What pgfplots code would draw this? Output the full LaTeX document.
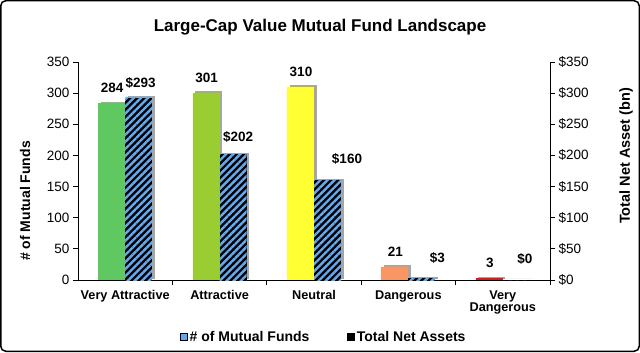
\documentclass[border=0pt]{standalone}
\usepackage{pgfplots}
\pgfplotsset{compat=1.18}
\usepackage{fontspec}
\setmainfont{Liberation Sans}
\usetikzlibrary{patterns.meta}
\definecolor{cVA}{RGB}{96,200,96}
\definecolor{cA}{RGB}{154,205,50}
\definecolor{cN}{RGB}{255,255,51}
\definecolor{cD}{RGB}{250,150,100}
\definecolor{cVD}{RGB}{210,30,30}
\definecolor{stripe}{RGB}{100,170,240}
\definecolor{lblue}{RGB}{100,165,240}
\newcommand{\fs}[1]{\fontsize{#1}{#1}\selectfont}
\begin{document}
\begin{tikzpicture}[x=1bp,y=1bp]
\useasboundingbox (0,0) rectangle (640,352);
\draw[line width=1.5bp, rounded corners=5bp] (0.75,0.75) rectangle (639.25,351.25);
\node[font=\bfseries\fs{17bp}] at (320,325) {Large-Cap Value Mutual Fund Landscape};
\begin{axis}[
  at={(78bp,72bp)}, anchor=south west,
  scale only axis, width=472bp, height=218bp,
  xmin=-0.5, xmax=4.5, ymin=0, ymax=350,
  axis y line*=left, axis x line*=bottom,
  axis line style={line width=0.9bp, -},
  ytick={0,50,...,350},
  yticklabel style={font=\fs{13.5bp}},
  /pgf/number format/assume math mode=true,
  tick align=outside, major tick length=5bp,
  tick style={line width=0.9bp, black},
  xtick={0.5,1.5,2.5,3.5,4.5},
  xticklabels={},
  extra x ticks={0,1,2,3,4},
  extra x tick labels={Very Attractive,Attractive,Neutral,Dangerous,{Very\\Dangerous}},
  extra x tick style={major tick length=0pt, xticklabel style={font=\bfseries\fs{12.7bp}, align=center, anchor=north, yshift=-7bp}},
  bar width=27bp,
  legend style={at={(0.521,-0.261)}, anchor=center, draw=none, fill=none,
    font=\bfseries\fs{14bp}, legend columns=2,
    /tikz/every even column/.append style={column sep=36bp}},
  legend cell align=left,
  legend image code/.code={\fill[#1] (0bp,-3.5bp) rectangle (7bp,3.5bp);},
  shadowed/.style={preaction={fill=black!35, transform canvas={xshift=2.5bp,yshift=1.5bp}}},
  fund/.style={ybar, forget plot, draw=none, bar shift=-13.5bp, fill=#1, shadowed,
    nodes near coords, nodes near coords style={font=\bfseries\fs{13.5bp}, anchor=center, yshift=15bp, xshift=-13bp, text=black}},
  asset/.style 2 args={ybar, forget plot, draw=none, bar shift=13.5bp, fill=black, shadowed,
    postaction={pattern={Lines[angle=45,distance=5bp,line width=2.4bp]}, pattern color=stripe},
    nodes near coords={\$\pgfmathprintnumber{\pgfplotspointmeta}},
    nodes near coords style={font=\bfseries\fs{13.5bp}, anchor=center, yshift=#2, xshift=#1, text=black}},
]
\addplot[fund=cVA] coordinates {(0,284)};
\addplot[fund=cA] coordinates {(1,301)};
\addplot[fund=cN] coordinates {(2,310)};
\addplot[fund=cD] coordinates {(3,21)};
\addplot[fund=cVD] coordinates {(4,3)};
\addplot[asset={15.5bp}{15bp}] coordinates {(0,293)};
\addplot[asset={18.5bp}{17bp}] coordinates {(1,202)};
\addplot[asset={33bp}{21bp}] coordinates {(2,160)};
\addplot[asset={29bp}{20bp}] coordinates {(3,3)};
\addplot[asset={22bp}{21bp}] coordinates {(4,0)};
\addlegendimage{fill=lblue}
\addlegendentry{\# of Mutual Funds}
\addlegendimage{fill=black}
\addlegendentry{Total Net Assets}
\end{axis}
\begin{axis}[
  at={(78bp,72bp)}, anchor=south west,
  scale only axis, width=472bp, height=218bp,
  xmin=-0.5, xmax=4.5, ymin=0, ymax=350,
  axis y line*=right, axis x line=none,
  axis line style={line width=0.9bp, -},
  ytick={0,50,...,350},
  /pgf/number format/assume math mode=true,
  yticklabel={\$\pgfmathprintnumber{\tick}},
  yticklabel style={font=\fs{13.5bp}},
  tick align=outside, major tick length=5bp,
  tick style={line width=0.9bp, black},
]
\addplot[draw=none, forget plot] coordinates {(0,0)};
\end{axis}
\node[rotate=90, font=\bfseries\fs{14bp}] at (25,151) {\# of Mutual Funds};
\node[rotate=90, font=\bfseries\fs{14.5bp}] at (626,196) {Total Net Asset (bn)};
\end{tikzpicture}
\end{document}
